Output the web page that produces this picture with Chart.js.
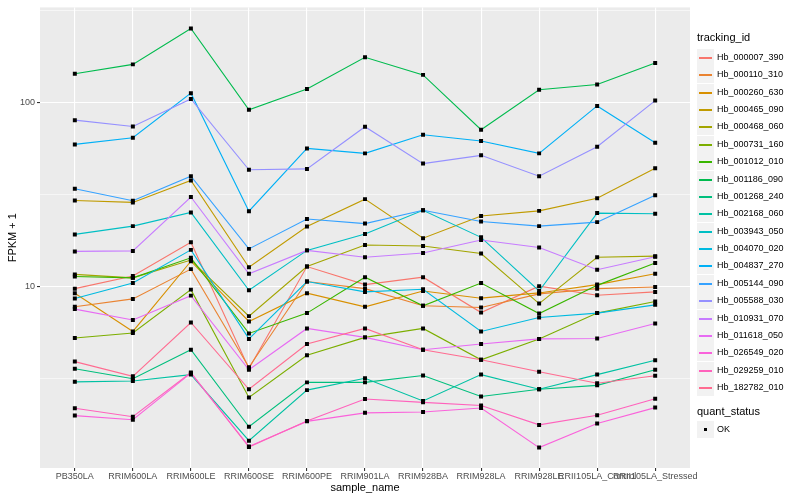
<!DOCTYPE html>
<html>
<head>
<meta charset="utf-8">
<script src="https://cdn.jsdelivr.net/npm/chart.js@4.4.1/dist/chart.umd.min.js"></script>
<style>
    body { margin: 0; background: #fff; font-family: "Liberation Sans", Arial, sans-serif; }
    #wrap { position: relative; width: 800px; height: 500px; }
    #legend { position: absolute; left: 697px; top: 0; width: 103px; height: 500px; }
    .ttl { position: absolute; left: 0; font-size: 11px; color: #000; white-space: nowrap; }
    .item { position: absolute; left: 0; height: 17px; width: 103px; }
    .key { position: absolute; left: 0; top: 0; width: 17px; height: 17px; background: #F2F2F2; }
    .key i { position: absolute; left: 2px; right: 2px; top: 8px; height: 1.5px; }
    .key b { position: absolute; left: 7px; top: 7px; width: 3px; height: 3px; background: #000; }
    .lbl { position: absolute; left: 20px; top: 3px; font-size: 9px; color: #000; white-space: nowrap; }
</style>
</head>
<body>
<div id="wrap">
    <canvas id="chart" width="800" height="500"></canvas>
    <div id="legend"></div>
</div>
<script>
// categories on the x axis
const samples = ["PB350LA", "RRIM600LA", "RRIM600LE", "RRIM600SE", "RRIM600PE", "RRIM901LA",
    "RRIM928BA", "RRIM928LA", "RRIM928LE", "RRII105LA_Control", "RRII105LA_Stressed"];

// FPKM + 1 per gene
const hb000007_390 = [9.79, 11.47, 17.5, 3.60, 12.9, 10.3, 11.3, 7.26, 10.1, 9.02, 9.40];
const hb000110_310 = [7.80, 8.61, 12.5, 3.66, 10.7, 9.79, 7.90, 7.73, 9.17, 9.79, 10.0];
const hb000260_630 = [9.25, 5.73, 13.8, 6.49, 9.25, 7.80, 9.51, 8.69, 9.28, 10.3, 11.8];
const hb000465_090 = [29.5, 28.8, 37.9, 12.8, 21.3, 30.0, 18.4, 24.3, 25.9, 30.3, 44.2];
const hb000468_060 = [11.7, 11.2, 14.0, 6.94, 12.9, 16.9, 16.7, 15.2, 8.12, 14.5, 14.7];
const hb000731_160 = [5.28, 5.62, 9.67, 2.51, 4.25, 5.32, 5.95, 4.02, 5.22, 7.21, 8.33];
const hb001012_010 = [11.4, 11.2, 14.4, 5.59, 7.21, 11.3, 7.90, 10.5, 7.17, 10.2, 13.5];
const hb001186_090 = [144, 162, 254, 91.7, 119, 177, 142, 71.5, 118, 126, 165];
const hb001268_240 = [3.59, 3.17, 4.56, 1.74, 3.03, 3.03, 3.30, 2.54, 2.78, 2.92, 3.55];
const hb002168_060 = [3.05, 3.08, 3.34, 1.46, 2.75, 3.19, 2.40, 3.34, 2.78, 3.34, 4.00];
const hb003943_050 = [19.3, 21.4, 25.4, 9.60, 15.8, 19.4, 26.1, 18.6, 9.51, 25.2, 25.0];
const hb004070_020 = [8.65, 10.5, 15.9, 5.22, 10.7, 9.40, 9.72, 5.73, 6.83, 7.21, 7.99];
const hb004837_270 = [59.5, 64.7, 113, 25.8, 56.6, 53.2, 67.1, 62.1, 53.2, 96.3, 60.8];
const hb005144_090 = [34.2, 29.4, 40.0, 16.1, 23.4, 22.1, 26.1, 22.7, 21.4, 22.5, 31.5];
const hb005588_030 = [80.6, 74.5, 105, 43.3, 43.8, 74.2, 46.8, 51.9, 40.0, 57.8, 103];
const hb010931_070 = [15.6, 15.7, 30.8, 11.8, 15.8, 14.5, 15.3, 18.0, 16.4, 12.4, 14.6];
const hb011618_050 = [7.58, 6.61, 8.97, 3.55, 5.95, 5.32, 4.56, 4.90, 5.22, 5.25, 6.33];
const hb026549_020 = [2.00, 1.90, 3.40, 1.36, 1.86, 2.07, 2.09, 2.20, 1.34, 1.81, 2.21];
const hb029259_010 = [2.19, 1.97, 3.43, 1.35, 1.87, 2.46, 2.36, 2.27, 1.78, 2.01, 2.47];
const hb182782_010 = [3.93, 3.27, 6.41, 2.78, 4.90, 5.95, 4.56, 4.02, 3.46, 3.00, 3.29];

const trackingIds = ["Hb_000007_390", "Hb_000110_310", "Hb_000260_630", "Hb_000465_090", "Hb_000468_060",
    "Hb_000731_160", "Hb_001012_010", "Hb_001186_090", "Hb_001268_240", "Hb_002168_060",
    "Hb_003943_050", "Hb_004070_020", "Hb_004837_270", "Hb_005144_090", "Hb_005588_030",
    "Hb_010931_070", "Hb_011618_050", "Hb_026549_020", "Hb_029259_010", "Hb_182782_010"];
const seriesValues = [hb000007_390, hb000110_310, hb000260_630, hb000465_090, hb000468_060,
    hb000731_160, hb001012_010, hb001186_090, hb001268_240, hb002168_060,
    hb003943_050, hb004070_020, hb004837_270, hb005144_090, hb005588_030,
    hb010931_070, hb011618_050, hb026549_020, hb029259_010, hb182782_010];

// y axis
const yMajor = [10, 100];
const yMinor = [3.162, 31.62, 316.2];

const colors = ["#F8766D", "#EA8331", "#D89000", "#C09B00", "#A3A500", "#7CAE00", "#39B600", "#00BB4E",
    "#00BF7D", "#00C1A3", "#00BFC4", "#00BAE0", "#00B0F6", "#35A2FF", "#9590FF", "#C77CFF",
    "#E76BF3", "#FA62DB", "#FF62BC", "#FF6C91"];

const fontFam = '"Liberation Sans", Arial, sans-serif';

const datasets = seriesValues.map((vals, i) => ({
    label: trackingIds[i],
    data: vals.map((v, j) => ({ x: j, y: v })),
    borderColor: colors[i],
    borderWidth: 1.1,
    pointRadius: 0,
    tension: 0,
    order: 40 - i
}));
datasets.push({
    label: "OK",
    data: seriesValues.flatMap(vals => vals.map((v, j) => ({ x: j, y: v }))),
    showLine: false,
    pointStyle: "rect",
    pointRadius: 2.8,
    pointBackgroundColor: "#000",
    pointBorderWidth: 0,
    order: 0
});

const panelBg = {
    id: "panelBg",
    beforeDraw(chart) {
        const a = chart.chartArea;
        const ctx = chart.ctx;
        ctx.save();
        ctx.fillStyle = "#EBEBEB";
        ctx.fillRect(a.left, a.top, a.right - a.left, a.bottom - a.top);
        ctx.restore();
    }
};

new Chart(document.getElementById("chart"), {
    type: "line",
    data: { datasets: datasets },
    plugins: [panelBg],
    options: {
        responsive: false,
        animation: false,
        layout: { padding: { left: 0, right: 110, top: 3, bottom: 0 } },
        plugins: { legend: { display: false }, tooltip: { enabled: false } },
        scales: {
            x: {
                type: "linear",
                min: -0.6,
                max: 10.6,
                afterBuildTicks: (s) => { s.ticks = samples.map((c, i) => ({ value: i })); },
                afterFit: (s) => { s.height = 32; },
                ticks: {
                    autoSkip: false, maxRotation: 0, minRotation: 0, padding: 0,
                    color: "#4D4D4D", font: { family: fontFam, size: 9 },
                    callback: (v) => samples[v]
                },
                grid: { color: "#FFFFFF", lineWidth: 1.1, tickLength: 3, tickColor: "#333333" },
                border: { display: false },
                title: { display: true, text: "sample_name", color: "#000", font: { family: fontFam, size: 11 }, padding: 5 }
            },
            y: {
                type: "logarithmic",
                min: 1.038,
                max: 330.4,
                afterBuildTicks: (s) => { s.ticks = yMinor.concat(yMajor).sort((a, b) => a - b).map(v => ({ value: v })); },
                afterFit: (s) => { s.width = 40; },
                ticks: {
                    padding: 2, color: "#4D4D4D", font: { family: fontFam, size: 9 },
                    callback: (v) => yMajor.includes(v) ? String(v) : ""
                },
                grid: {
                    color: "#FFFFFF",
                    lineWidth: (c) => yMajor.includes(c.tick.value) ? 1.1 : 0.55,
                    tickLength: 3,
                    tickColor: (c) => yMajor.includes(c.tick.value) ? "#333333" : "rgba(0,0,0,0)"
                },
                border: { display: false },
                title: { display: true, text: "FPKM + 1", color: "#000", font: { family: fontFam, size: 11 }, padding: 6 }
            }
        }
    }
});

// legend on the right
const legend = document.getElementById("legend");
let html = '<div class="ttl" style="top:31px">tracking_id</div>';
trackingIds.forEach((id, i) => {
    const top = Math.round(49 + i * 17.37);
    html += '<div class="item" style="top:' + top + 'px"><div class="key"><i style="background:' + colors[i] + '"></i></div>' +
        '<div class="lbl">' + id + '</div></div>';
});
html += '<div class="ttl" style="top:405px">quant_status</div>';
html += '<div class="item" style="top:421px"><div class="key"><b></b></div><div class="lbl">OK</div></div>';
legend.innerHTML = html;
</script>
</body>
</html>
